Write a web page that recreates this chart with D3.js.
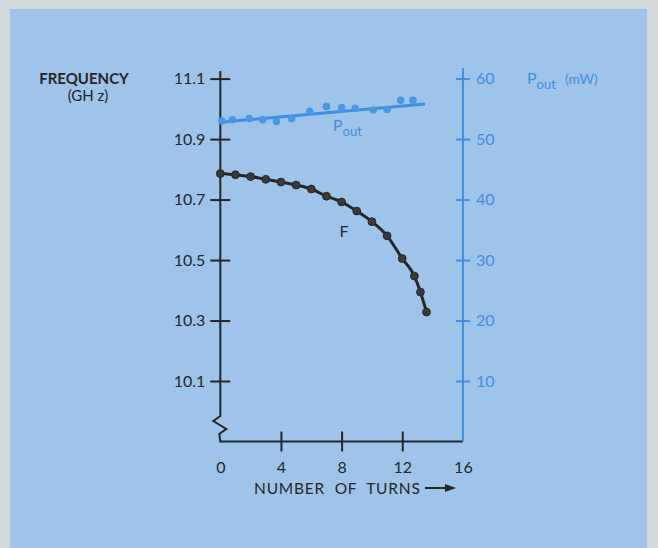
<!DOCTYPE html>
<html>
<head>
<meta charset="utf-8">
<script src="https://cdn.jsdelivr.net/npm/d3@7"></script>
<style>
  body { margin: 0; background: #d3d9da; }
  svg { display: block; }
  text { font-family: "Lato", "Liberation Sans", sans-serif; white-space: pre; }
</style>
</head>
<body>
<svg id="chart" width="658" height="548"></svg>
<script>
// frequency curve (turns, GHz)
var fTurns = [0, 1, 2, 3, 4, 5, 6, 7, 8, 9, 10, 11, 12, 12.8, 13.2, 13.6];
var fGHz = [10.786, 10.782, 10.776, 10.767, 10.758, 10.748, 10.735, 10.711, 10.692, 10.662, 10.627, 10.580, 10.505, 10.447, 10.394, 10.328];

// output power points (turns, mW)
var pTurns = [0.1, 0.8, 1.9, 2.8, 3.7, 4.7, 5.9, 7.0, 8.0, 8.9, 10.1, 11.0, 11.9, 12.7];
var pMW = [53.0, 53.2, 53.4, 53.2, 52.9, 53.4, 54.6, 55.4, 55.2, 55.1, 54.8, 54.9, 56.4, 56.4];
// hand drawn fit line through the power points
var pFitTurns = [0, 13.5];
var pFitMW = [52.8, 55.8];

var xTicks = [0, 4, 8, 12, 16];
var fTicks = [10.1, 10.3, 10.5, 10.7, 10.9, 11.1];
var pTicks = [10, 20, 30, 40, 50, 60];

var ink = "#262626";
var blue = "#3f8fe0";

var svg = d3.select("#chart");

svg.append("rect").attr("x", 10).attr("y", 9).attr("width", 637).attr("height", 539)
  .attr("fill", "#9fc4ea");

var x = d3.scaleLinear().domain([0, 16]).range([220.3, 462.9]);
var yF = d3.scaleLinear().domain([9.9, 11.1]).range([441.5, 78.6]);
var yP = d3.scaleLinear().domain([0, 60]).range([441.5, 78.6]);

// left axis with break
var x0 = x(0), yb = yF(9.9);
svg.append("path")
  .attr("d", "M" + x0 + "," + 71 + "L" + x0 + "," + 416 + "L" + (x0 - 7) + "," + 421 +
    "L" + (x0 + 6) + "," + 429 + "L" + (x0 - 1) + "," + 434 + "L" + x0 + "," + yb +
    "L" + x(16) + "," + yb)
  .attr("fill", "none").attr("stroke", ink).attr("stroke-width", 2);

var gL = svg.append("g").attr("transform", "translate(" + x0 + ",0)")
  .call(d3.axisLeft(yF).tickValues(fTicks).tickSize(10).tickPadding(5).tickFormat(d3.format(".1f")));
gL.select(".domain").remove();
gL.selectAll(".tick line").attr("x1", 10).attr("stroke", ink).attr("stroke-width", 2);
gL.selectAll(".tick text").attr("fill", ink).style("font-size", "16px");

// bottom axis
var gB = svg.append("g").attr("transform", "translate(0," + yb + ")")
  .call(d3.axisBottom(x).tickValues(xTicks).tickSize(10).tickPadding(10));
gB.select(".domain").remove();
gB.selectAll(".tick line").attr("y1", -10).attr("stroke", ink).attr("stroke-width", 2)
  .filter(function(d) { return d === 0 || d === 16; }).remove();
gB.selectAll(".tick text").attr("fill", ink).style("font-size", "16px");

// right axis
var x16 = x(16);
svg.append("line").attr("x1", x16).attr("x2", x16).attr("y1", 68).attr("y2", yb)
  .attr("stroke", blue).attr("stroke-width", 2);
var gR = svg.append("g").attr("transform", "translate(" + x16 + ",0)")
  .call(d3.axisRight(yP).tickValues(pTicks).tickSize(7).tickPadding(6));
gR.select(".domain").remove();
gR.selectAll(".tick line").attr("x1", -7).attr("stroke", blue).attr("stroke-width", 2);
gR.selectAll(".tick text").attr("fill", blue).style("font-size", "16px");

// power fit line and points
var pLine = d3.line().x(function(d) { return x(d[0]); }).y(function(d) { return yP(d[1]); });
svg.append("path").datum(d3.zip(pFitTurns, pFitMW)).attr("d", pLine)
  .attr("fill", "none").attr("stroke", blue).attr("stroke-width", 3);
svg.selectAll("circle.p").data(d3.zip(pTurns, pMW)).enter().append("circle")
  .attr("class", "p")
  .attr("cx", function(d) { return x(d[0]); })
  .attr("cy", function(d) { return yP(d[1]); })
  .attr("r", 3.8).attr("fill", "#4a98e4");

// frequency curve and points
var fLine = d3.line().curve(d3.curveMonotoneX)
  .x(function(d) { return x(d[0]); }).y(function(d) { return yF(d[1]); });
svg.append("path").datum(d3.zip(fTurns, fGHz)).attr("d", fLine)
  .attr("fill", "none").attr("stroke", ink).attr("stroke-width", 3);
svg.selectAll("circle.f").data(d3.zip(fTurns, fGHz)).enter().append("circle")
  .attr("class", "f")
  .attr("cx", function(d) { return x(d[0]); })
  .attr("cy", function(d) { return yF(d[1]); })
  .attr("r", 3.9).attr("fill", "#3a3a3a").attr("stroke", ink).attr("stroke-width", 1);

// labels
svg.append("text").attr("x", 84).attr("y", 84).attr("text-anchor", "middle")
  .attr("fill", ink).style("font-size", "15px").style("font-weight", "bold").text("FREQUENCY");
svg.append("text").attr("x", 88).attr("y", 101).attr("text-anchor", "middle")
  .attr("fill", ink).style("font-size", "15px").text("(GH z)");

var pl = svg.append("text").attr("x", 527).attr("y", 84).attr("fill", blue).style("font-size", "16px");
pl.append("tspan").text("P");
pl.append("tspan").attr("dy", 5).style("font-size", "13px").text("out");
pl.append("tspan").attr("dy", -5).attr("dx", 9).style("font-size", "14px").text("(mW)");

var pi = svg.append("text").attr("x", 333).attr("y", 131).attr("fill", blue).style("font-size", "16px");
pi.append("tspan").text("P");
pi.append("tspan").attr("dy", 5).style("font-size", "13px").text("out");

svg.append("text").attr("x", 254).attr("y", 16).attr("y", 237).attr("x", 344).attr("text-anchor", "middle")
  .attr("fill", ink).style("font-size", "16px").text("F");

svg.append("text").attr("x", 254).attr("y", 494).attr("fill", ink).style("font-size", "15.5px")
  .style("letter-spacing", "0.8px").text("NUMBER  OF  TURNS");
svg.append("line").attr("x1", 425).attr("x2", 447).attr("y1", 488).attr("y2", 488)
  .attr("stroke", ink).attr("stroke-width", 2);
svg.append("path").attr("d", "M445,484L456,488L445,492Z").attr("fill", ink);
</script>
</body>
</html>
